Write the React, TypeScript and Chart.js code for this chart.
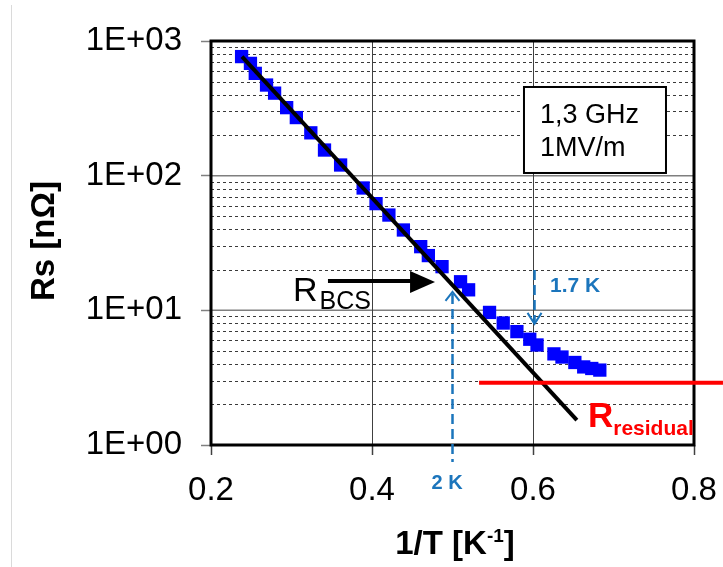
import React, { useEffect, useRef } from 'react';
import { Chart, registerables } from 'chart.js';

Chart.register(...registerables);

// ---- data ----
const invT = [
  0.238, 0.249, 0.255, 0.269, 0.279, 0.294, 0.306, 0.324, 0.341, 0.361,
  0.389, 0.405, 0.421, 0.439, 0.4605, 0.47, 0.487, 0.51, 0.52, 0.546,
  0.563, 0.58, 0.596, 0.605, 0.626, 0.636, 0.652, 0.663, 0.673, 0.683,
];
const rs = [
  766, 682, 575, 471, 410, 320, 270, 208, 155, 120,
  81, 62, 51, 39.5, 29.7, 25.5, 21.1, 16.3, 14.2, 9.65,
  8.05, 6.95, 6.1, 5.53, 4.75, 4.5, 4.1, 3.8, 3.7, 3.6,
];
const fitInvT = [0.2385, 0.6545];
const fitRs = [766, 1.53];
const residualInvT = [0.533, 0.836];
const residualRs = [2.9, 2.9];

const xTickValues = [0.2, 0.4, 0.6, 0.8];
const xTickLabels = ['0.2', '0.4', '0.6', '0.8'];
const yTickValues = [1, 10, 100, 1000];
const yTickLabels = ['1E+00', '1E+01', '1E+02', '1E+03'];

const FONT = '"Liberation Sans", Arial, sans-serif';
const BLUE_NOTE = '#1B75BC';

const annotationPlugin = {
  id: 'annotations',
  beforeDatasetsDraw(chart: any) {
    const { ctx, chartArea: a, scales } = chart;
    const x = scales.x;
    const y = scales.y;
    ctx.save();
    // minor dashed gridlines
    ctx.lineWidth = 1;
    ctx.strokeStyle = '#3a3a3a';
    ctx.setLineDash([3, 3]);
    for (let d = 0; d < 3; d++) {
      for (let m = 2; m <= 9; m++) {
        const py = Math.round(y.getPixelForValue(m * Math.pow(10, d))) + 0.5;
        ctx.beginPath();
        ctx.moveTo(a.left, py);
        ctx.lineTo(a.right, py);
        ctx.stroke();
      }
    }
    ctx.setLineDash([]);
    // major horizontal gridlines
    ctx.strokeStyle = '#7f7f7f';
    ctx.lineWidth = 1.5;
    for (const v of [10, 100]) {
      const py = y.getPixelForValue(v);
      ctx.beginPath();
      ctx.moveTo(a.left, py);
      ctx.lineTo(a.right, py);
      ctx.stroke();
    }
    // vertical gridlines
    ctx.strokeStyle = '#404040';
    ctx.lineWidth = 1;
    for (const v of [0.4, 0.6]) {
      const px = Math.round(x.getPixelForValue(v)) + 0.5;
      ctx.beginPath();
      ctx.moveTo(px, a.top);
      ctx.lineTo(px, a.bottom);
      ctx.stroke();
    }
    // plot border
    ctx.strokeStyle = '#000';
    ctx.lineWidth = 3;
    ctx.strokeRect(a.left, a.top, a.right - a.left, a.bottom - a.top);
    ctx.restore();
  },
  afterDraw(chart: any) {
    const { ctx, scales } = chart;
    const x = scales.x;
    const y = scales.y;
    const P = (vx: number, vy: number) => [x.getPixelForValue(vx), y.getPixelForValue(vy)];
    ctx.save();

    // faint outer frame line
    ctx.strokeStyle = '#dadada';
    ctx.lineWidth = 1;
    ctx.beginPath();
    ctx.moveTo(11.5, 5);
    ctx.lineTo(11.5, 567);
    ctx.stroke();

    // R_BCS arrow
    const [tx, ty] = P(0.3453, 16.5);
    const [hx] = P(0.4783, 16.5);
    ctx.strokeStyle = '#000';
    ctx.fillStyle = '#000';
    ctx.lineWidth = 4;
    ctx.beginPath();
    ctx.moveTo(tx, ty);
    ctx.lineTo(hx - 22, ty);
    ctx.stroke();
    ctx.beginPath();
    ctx.moveTo(hx, ty + 1);
    ctx.lineTo(hx - 25, ty - 10);
    ctx.lineTo(hx - 25, ty + 12);
    ctx.closePath();
    ctx.fill();

    // R_BCS text
    const [rx, ry] = P(0.3019, 11.64);
    ctx.textAlign = 'left';
    ctx.textBaseline = 'alphabetic';
    ctx.font = `34px ${FONT}`;
    ctx.fillText('R', rx, ry);
    const rw = ctx.measureText('R').width;
    ctx.font = `25px ${FONT}`;
    ctx.fillText('BCS', rx + rw + 2, ry + 8);

    // 2 K dashed arrow
    ctx.strokeStyle = BLUE_NOTE;
    ctx.fillStyle = BLUE_NOTE;
    ctx.lineWidth = 2.5;
    const [ax, aTop] = P(0.5, 13.7);
    const [, aBot] = P(0.5, 0.749);
    ctx.setLineDash([10, 5]);
    ctx.beginPath();
    ctx.moveTo(ax, aTop + 2);
    ctx.lineTo(ax, aBot);
    ctx.stroke();
    ctx.setLineDash([]);
    ctx.lineWidth = 2;
    ctx.beginPath();
    ctx.moveTo(ax - 7, aTop + 9);
    ctx.lineTo(ax, aTop);
    ctx.lineTo(ax + 7, aTop + 9);
    ctx.stroke();
    const [kx, ky] = P(0.4932, 0.472);
    ctx.font = `bold 20px ${FONT}`;
    ctx.textAlign = 'center';
    ctx.fillText('2 K', kx, ky);

    // 1.7 K dashed arrow
    const [bx, bTop] = P(0.6019, 19.95);
    const [, bBot] = P(0.6019, 7.93);
    ctx.lineWidth = 2.5;
    ctx.setLineDash([10, 5]);
    ctx.beginPath();
    ctx.moveTo(bx, bTop);
    ctx.lineTo(bx, bBot - 2);
    ctx.stroke();
    ctx.setLineDash([]);
    ctx.lineWidth = 2;
    ctx.beginPath();
    ctx.moveTo(bx - 7, bBot - 11);
    ctx.lineTo(bx, bBot);
    ctx.lineTo(bx + 7, bBot - 11);
    ctx.stroke();
    const [lx, ly] = P(0.6211, 13.7);
    ctx.font = `bold 21px ${FONT}`;
    ctx.textAlign = 'left';
    ctx.fillText('1.7 K', lx, ly);

    // R_residual text
    const [qx, qy] = P(0.6683, 1.363);
    ctx.fillStyle = '#FF0000';
    ctx.font = `bold 35px ${FONT}`;
    ctx.fillText('R', qx, qy);
    const qw = ctx.measureText('R').width;
    ctx.font = `bold 21px ${FONT}`;
    ctx.fillText('residual', qx + qw, qy + 8);

    // text box
    const [bl, bt] = P(0.5888, 455.5);
    const [br, bb] = P(0.7652, 104.7);
    ctx.fillStyle = '#fff';
    ctx.fillRect(bl, bt, br - bl, bb - bt);
    ctx.strokeStyle = '#000';
    ctx.lineWidth = 2;
    ctx.strokeRect(bl, bt, br - bl, bb - bt);
    ctx.fillStyle = '#000';
    ctx.font = `27px ${FONT}`;
    const [t1x, t1y] = P(0.6087, 246);
    const [, t2y] = P(0.6087, 140);
    ctx.fillText('1,3 GHz', t1x, t1y);
    ctx.fillText('1MV/m', t1x, t2y);

    // axis titles
    ctx.fillStyle = '#000';
    ctx.font = `bold 33px ${FONT}`;
    ctx.save();
    ctx.translate(45, 241);
    ctx.rotate(-Math.PI / 2);
    ctx.textAlign = 'center';
    ctx.textBaseline = 'middle';
    ctx.fillText('Rs [nΩ]', 0, 0);
    ctx.restore();

    const main1 = '1/T [K';
    const sup = '-1';
    const main2 = ']';
    ctx.font = `bold 33px ${FONT}`;
    const w1 = ctx.measureText(main1).width;
    const w3 = ctx.measureText(main2).width;
    ctx.font = `bold 19px ${FONT}`;
    const w2 = ctx.measureText(sup).width;
    const total = w1 + w2 + w3;
    let cx = 455 - total / 2;
    const base = 554;
    ctx.textAlign = 'left';
    ctx.textBaseline = 'alphabetic';
    ctx.font = `bold 33px ${FONT}`;
    ctx.fillText(main1, cx, base);
    cx += w1;
    ctx.font = `bold 19px ${FONT}`;
    ctx.fillText(sup, cx, base - 12);
    cx += w2;
    ctx.font = `bold 33px ${FONT}`;
    ctx.fillText(main2, cx, base);

    ctx.restore();
  },
};

export default function App() {
  const ref = useRef<HTMLCanvasElement | null>(null);

  useEffect(() => {
    if (!ref.current) return;
    const chart = new Chart(ref.current, {
      type: 'scatter',
      data: {
        datasets: [
          {
            label: 'Rs',
            data: invT.map((v, i) => ({ x: v, y: rs[i] })),
            pointStyle: 'rect',
            pointRadius: 9.4,
            pointBackgroundColor: '#0000FF',
            pointBorderColor: '#0000FF',
            pointBorderWidth: 0,
            showLine: false,
            order: 2,
          },
          {
            label: 'RBCS',
            data: fitInvT.map((v, i) => ({ x: v, y: fitRs[i] })),
            showLine: true,
            pointRadius: 0,
            borderColor: '#000',
            borderWidth: 4,
            order: 1,
          },
          {
            label: 'Rresidual',
            data: residualInvT.map((v, i) => ({ x: v, y: residualRs[i] })),
            showLine: true,
            pointRadius: 0,
            borderColor: '#FF0000',
            borderWidth: 4,
            clip: false as any,
            order: 0,
          },
        ],
      },
      options: {
        animation: false,
        responsive: false,
        layout: { padding: { top: 41, right: 29, bottom: 0, left: 0 } },
        plugins: { legend: { display: false }, tooltip: { enabled: false } },
        scales: {
          x: {
            type: 'linear',
            min: 0.2,
            max: 0.8,
            afterBuildTicks: (s: any) => {
              s.ticks = xTickValues.map((v) => ({ value: v }));
            },
            afterFit: (s: any) => {
              s.height = 122;
              s.paddingLeft = 0;
              s.paddingRight = 0;
            },
            border: { display: false },
            grid: {
              drawOnChartArea: false,
              drawTicks: true,
              tickLength: 10,
              tickColor: '#404040',
              tickWidth: 1.5,
            },
            ticks: {
              padding: 16,
              maxRotation: 0,
              color: '#000',
              font: { family: FONT, size: 33 },
              callback: (_v: any, i: number) => xTickLabels[i],
            },
          },
          y: {
            type: 'logarithmic',
            min: 1,
            max: 1000,
            afterBuildTicks: (s: any) => {
              s.ticks = yTickValues.map((v) => ({ value: v }));
            },
            afterFit: (s: any) => {
              s.width = 211;
              s.paddingTop = 0;
              s.paddingBottom = 0;
            },
            border: { display: false },
            grid: {
              drawOnChartArea: false,
              drawTicks: true,
              tickLength: 10,
              tickColor: '#808080',
              tickWidth: 1.5,
            },
            ticks: {
              padding: 19,
              color: '#000',
              font: { family: FONT, size: 33 },
              callback: (_v: any, i: number) => yTickLabels[i],
            },
          },
        },
      },
      plugins: [annotationPlugin],
    });
    return () => chart.destroy();
  }, []);

  return (
    <div style={{ position: 'absolute', left: 0, top: 0, width: 723, height: 567, background: '#fff' }}>
      <canvas ref={ref} width={723} height={567} style={{ display: 'block' }} />
    </div>
  );
}
